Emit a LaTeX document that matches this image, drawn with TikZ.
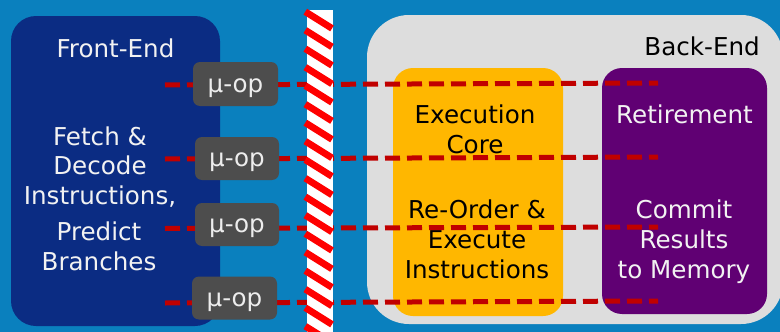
\documentclass[tikz,border=0pt]{standalone}
\usepackage{fontspec}
\setmainfont{DejaVu Sans}
\definecolor{bgblue}{HTML}{0A80BE}
\definecolor{feblue}{HTML}{0B2C83}
\definecolor{begray}{HTML}{DDDDDD}
\definecolor{exorange}{HTML}{FFB700}
\definecolor{retpurple}{HTML}{600073}
\definecolor{uopgray}{HTML}{4D4D4D}
\definecolor{dashred}{HTML}{C00000}
\definecolor{stripered}{HTML}{FF0000}
\begin{document}
\begin{tikzpicture}[x=1pt,y=-1pt,
  font=\fontsize{24.6}{29.6}\selectfont,
  panel/.style={draw=none, inner sep=0pt, rectangle},
  label/.style={anchor=base, align=center, inner sep=0pt},
  uop/.style={panel, fill=uopgray, rounded corners=7pt, text=white!93!black,
              text height=18pt, text depth=2pt},
  uopline/.style={draw=dashred, line width=5pt, dash pattern=on 15pt off 7pt},
  stripe/.style={draw=stripered, line width=6.8pt}]
\useasboundingbox (0,0) rectangle (780,332);
\fill[bgblue] (0,0) rectangle (780,332);

% pipeline stages
\node[panel, fill=feblue, rounded corners=25pt, minimum width=209pt, minimum height=310pt] (frontend) at (115.5,171) {};
\node[panel, fill=begray, rounded corners=42pt, minimum width=416pt, minimum height=309pt] (backend) at (575,169.5) {};
\node[panel, fill=exorange, rounded corners=20pt, minimum width=170pt, minimum height=248pt] (execcore) at (478,192) {};
\node[panel, fill=retpurple, rounded corners=20pt, minimum width=165pt, minimum height=246pt] (retire) at (684.5,191) {};

% stage labels (base anchor sits on the last line)
\node[label, text=white!95!black] (fetitle) at (115.5,57) {Front-End};
\node[label, text=white!95!black] (fetext) at (100,204.5) {Fetch \&\\Decode\\Instructions,};
\node[label, text=white!95!black] (fepred) at (99,270) {Predict\\Branches};
\node[label, anchor=base east, text=black] (betitle) at (760,55) {Back-End};
\node[label, text=black] (extitle) at (475,153) {Execution\\Core};
\node[label, text=black] (extext) at (477,278) {Re-Order \&\\Execute\\Instructions};
\node[label, text=white!95!black] (rettitle) at (684.5,123) {Retirement};
\node[label, text=white!95!black] (rettext) at (684,278) {Commit\\Results\\to Memory};

% micro-op flow lines
\coordinate (ls1) at (165,85);  \coordinate (le1) at (658,83);
\coordinate (ls2) at (165,159); \coordinate (le2) at (658,157);
\coordinate (ls3) at (165,228.5); \coordinate (le3) at (658,227);
\coordinate (ls4) at (165,303); \coordinate (le4) at (658,301);
\foreach \i in {1,...,4} \draw[uopline] (ls\i) -- (le\i);

% barrier between front-end and back-end
\node[panel, fill=white, minimum width=25.5pt, minimum height=322pt, anchor=north west] (barrier) at (306.8,10) {};
\foreach \k in {0,...,17}
  \draw[stripe] (305.3,{11.7+18.5*\k}) -- ++(26.7,16.7);

% micro-ops
\node[uop, minimum width=85pt, minimum height=44pt] (uop1) at (235.5,84) {μ-op};
\node[uop, minimum width=84pt, minimum height=43pt] (uop2) at (237,158.5) {μ-op};
\node[uop, minimum width=84pt, minimum height=43pt] (uop3) at (237,224.5) {μ-op};
\node[uop, minimum width=85pt, minimum height=43pt] (uop4) at (234.5,298) {μ-op};
\end{tikzpicture}
\end{document}
